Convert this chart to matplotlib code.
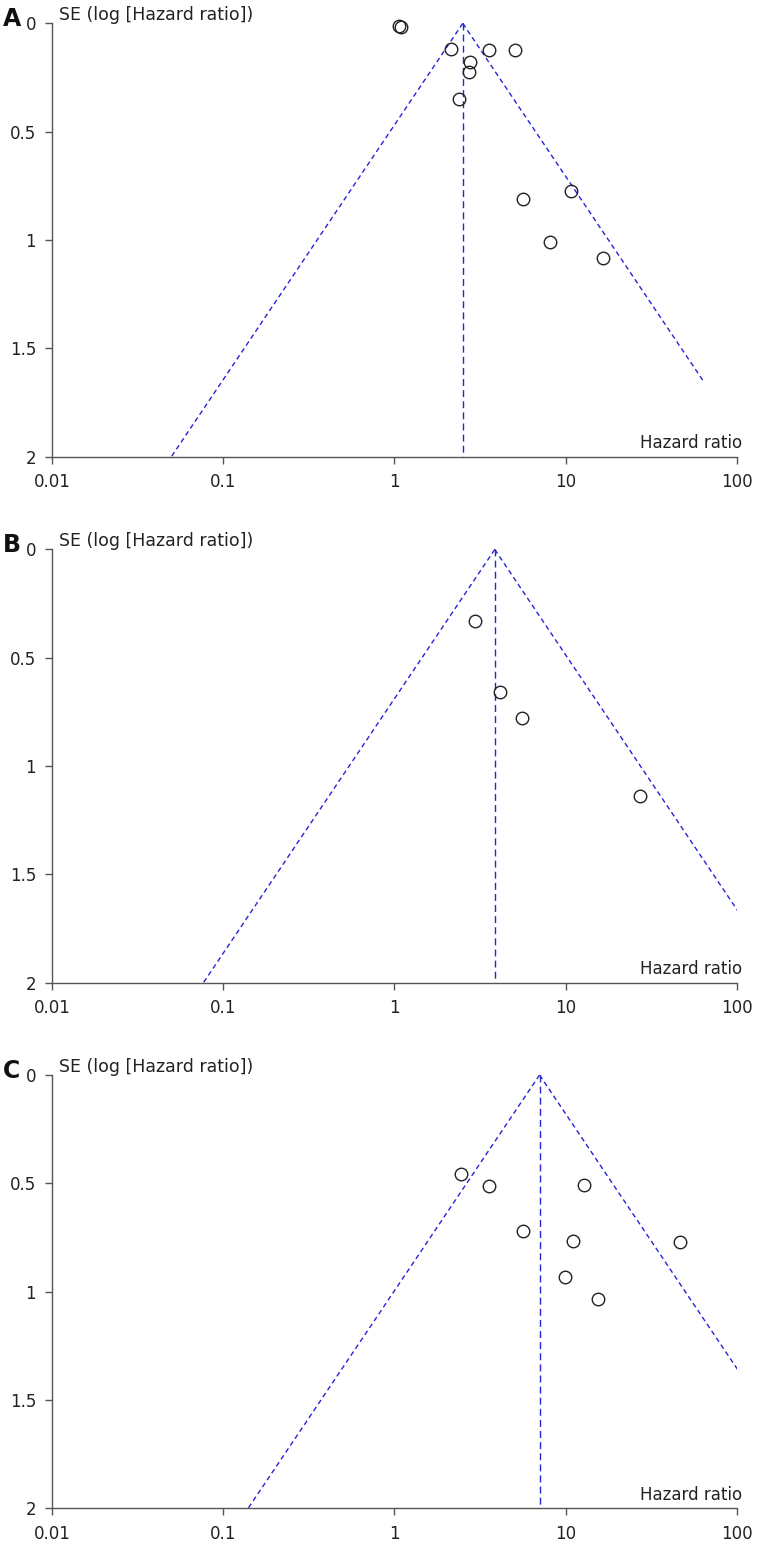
import numpy as np
import matplotlib
matplotlib.use('Agg')
import matplotlib.pyplot as plt

# funnel plots, three panels
panel_labels = ['A', 'B', 'C']

pooled_hr = [2.51, 3.86, 7.05]
# SE where the right-hand funnel line stops (lines are also clipped at HR=100)
se_right_end = [1.65, 2.0, 2.0]

hr_a = [1.07, 1.09, 2.15, 3.56, 5.10, 2.76, 2.72, 2.38, 10.8, 5.68, 8.17, 16.5]
se_a = [0.012, 0.015, 0.118, 0.124, 0.124, 0.178, 0.224, 0.350, 0.773, 0.809, 1.007, 1.081]

hr_b = [2.95, 4.13, 5.58, 27.2]
se_b = [0.331, 0.658, 0.778, 1.137]

hr_c = [2.45, 3.55, 12.9, 5.65, 11.1, 46.6, 9.87, 15.5]
se_c = [0.455, 0.512, 0.508, 0.720, 0.766, 0.769, 0.932, 1.034]

hr_all = [hr_a, hr_b, hr_c]
se_all = [se_a, se_b, se_c]

xticks = [0.01, 0.1, 1, 10, 100]
xticklabels = ['0.01', '0.1', '1', '10', '100']
yticks = [0, 0.5, 1, 1.5, 2]
yticklabels = ['0', '0.5', '1', '1.5', '2']

plt.rcParams['font.family'] = 'DejaVu Sans'

W, H = 782, 1543
fig = plt.figure(figsize=(W / 100, H / 100), dpi=100)

# axes boxes in pixels: left, top, right, bottom
boxes = [(52, 23.4, 736.7, 456.7),
         (52, 549.5, 736.7, 982.8),
         (52, 1075.0, 736.7, 1508.3)]

axcol = '#555555'
linecol = '#2424d8'

for i in range(3):
    l, t, r, b = boxes[i]
    ax = fig.add_axes([l / W, 1 - b / H, (r - l) / W, (b - t) / H])
    ax.set_xscale('log')
    ax.set_xlim(0.01, 100)
    ax.set_ylim(2, 0)

    p = pooled_hr[i]
    se_max = 2.0
    # left and right funnel edges (pseudo 95% CI)
    ax.plot([p, p * np.exp(-1.96 * se_max)], [0, se_max], color=linecol,
            lw=1.0, dashes=(3.5, 2.5))
    ax.plot([p, p * np.exp(1.96 * se_right_end[i])], [0, se_right_end[i]],
            color=linecol, lw=1.0, dashes=(3.5, 2.5))
    ax.plot([p, p], [0, se_max], color=linecol, lw=1.0, dashes=(5, 3))

    ax.plot(hr_all[i], se_all[i], 'o', ms=9, mfc='none', mec='#222222',
            mew=1.0, clip_on=False)

    for s in ['top', 'right']:
        ax.spines[s].set_visible(False)
    for s in ['left', 'bottom']:
        ax.spines[s].set_color(axcol)
        ax.spines[s].set_linewidth(1.0)

    ax.set_xticks(xticks)
    ax.set_xticklabels(xticklabels)
    ax.set_yticks(yticks)
    ax.set_yticklabels(yticklabels)
    ax.minorticks_off()
    ax.tick_params(axis='both', direction='out', length=5, width=1.0,
                   color=axcol, labelsize=12, labelcolor='#222222')
    ax.tick_params(axis='y', pad=6.5)
    ax.tick_params(axis='x', pad=7)

    ax.text(1.008, 0.01, 'Hazard ratio', transform=ax.transAxes,
            ha='right', va='bottom', fontsize=12, color='#222222')
    ax.annotate('SE (log [Hazard ratio])', xy=(0, 1), xycoords='axes fraction',
                xytext=(5, 6), textcoords='offset points', ha='left',
                va='center', fontsize=12.5, color='#222222')
    fig.text(3 / W, 1 - (t - 4) / H, panel_labels[i], ha='left', va='center',
             fontsize=17, fontweight='bold', color='#111111')

fig.savefig('out.png', dpi=100)
